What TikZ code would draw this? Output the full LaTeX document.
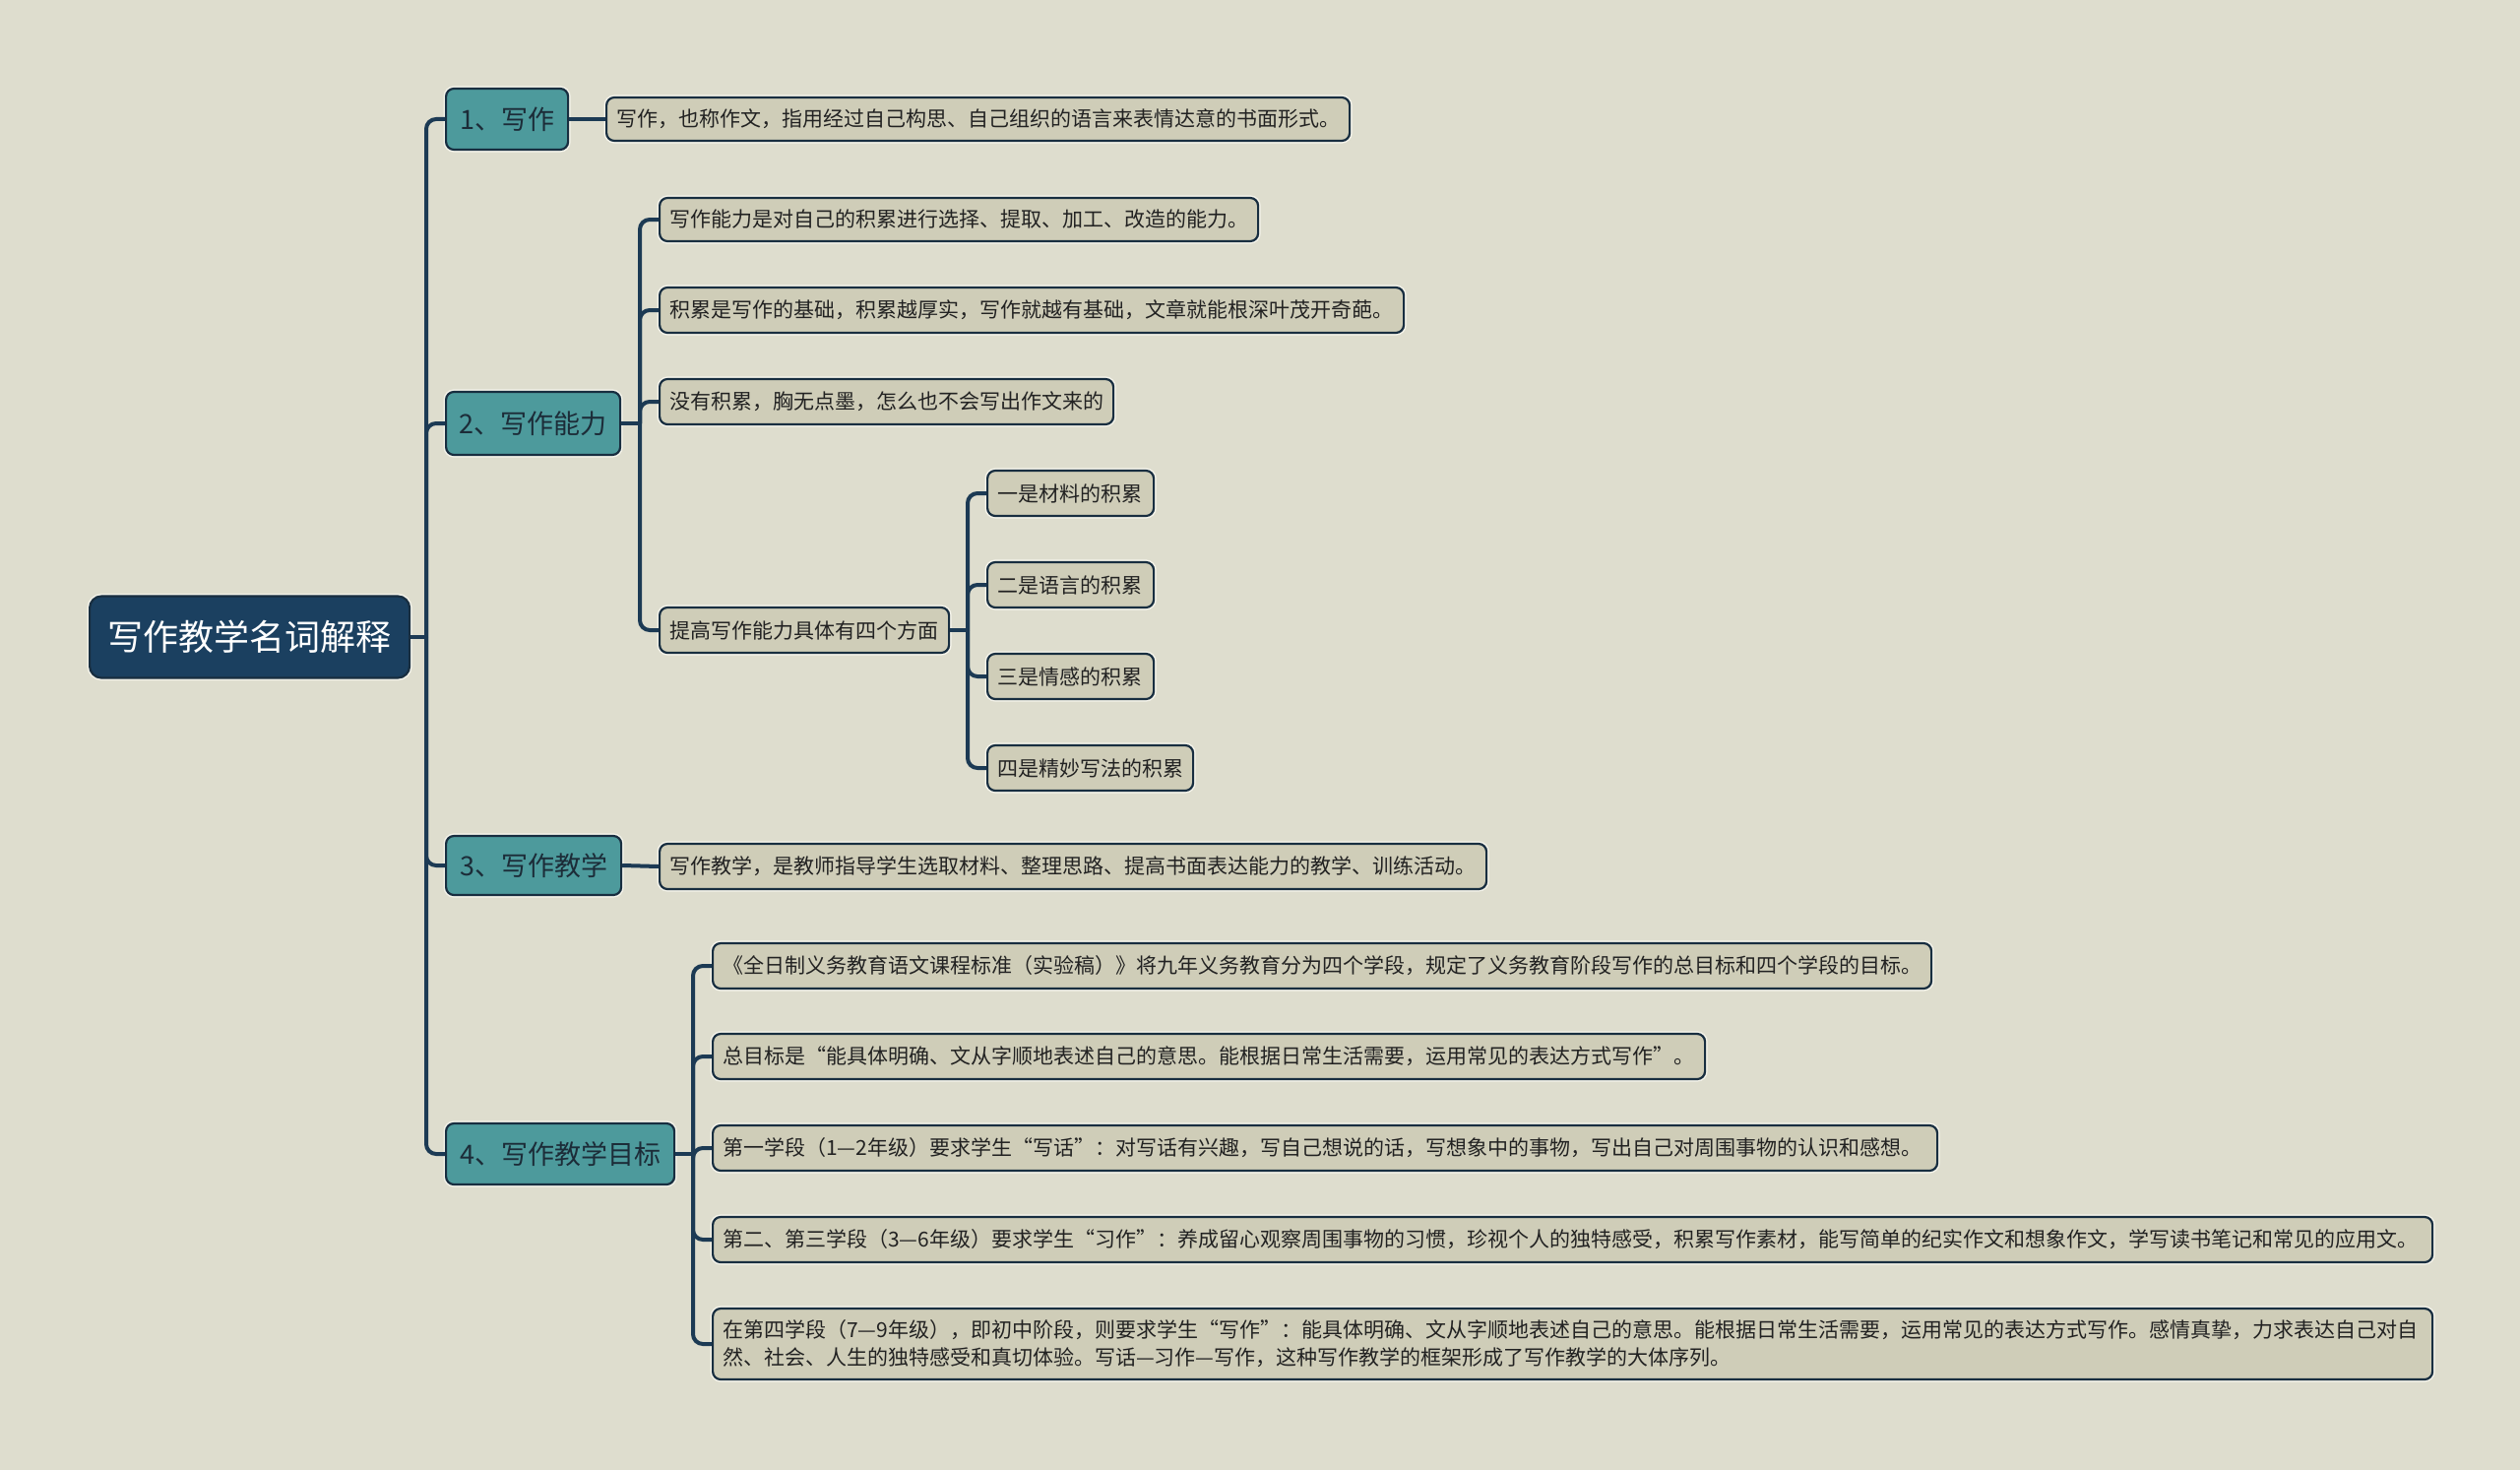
\documentclass[tikz,border=0pt]{standalone}
\usepackage{fontspec}
\setmainfont{Noto Sans CJK SC}
\definecolor{bgc}{RGB}{222,221,206}
\definecolor{leafc}{RGB}{207,205,184}
\definecolor{tealc}{RGB}{77,154,156}
\definecolor{rootc}{RGB}{27,64,96}
\definecolor{bordc}{RGB}{24,46,64}
\definecolor{linec}{RGB}{28,58,84}
\definecolor{leaftxt}{RGB}{34,34,34}
\definecolor{topictxt}{RGB}{28,44,56}
\definecolor{halo}{RGB}{244,243,234}
\begin{document}
\begin{tikzpicture}[x=0.5pt,y=-0.5pt,
  base/.style={draw=bordc, line width=1.1pt, rounded corners=4pt, anchor=west,
    inner ysep=0pt, preaction={draw=halo, line width=2.6pt}},
  leaf/.style={base, fill=leafc, text=leaftxt, inner xsep=5pt,
    font=\fontsize{10.5}{14}\selectfont, align=left, minimum height=23pt},
  topic/.style={base, fill=tealc, text=topictxt, inner xsep=0pt,
    font=\fontsize{13.5}{16}\selectfont, align=center},
  rootn/.style={base, fill=rootc, text=white, inner xsep=0pt, rounded corners=6pt,
    font=\fontsize{18}{22}\selectfont, align=center},
  conn/.style={draw=linec, line width=2pt, rounded corners=5pt}]
\useasboundingbox[fill=bgc] (0,0) rectangle (2560,1493);

% root
\node[rootn, minimum width=162.5pt, minimum height=41.5pt] (root) at (90,647) {写作教学名词解释};

% level 1
\node[topic, minimum width=62pt, minimum height=31pt] (n1) at (452,121) {1、写作};
\node[topic, minimum width=88.5pt, minimum height=32pt] (n2) at (452,430) {2、写作能力};
\node[topic, minimum width=89pt, minimum height=30pt] (n3) at (452,879) {3、写作教学};
\node[topic, minimum width=116pt, minimum height=31pt] (n4) at (452,1172) {4、写作教学目标};

% leaves of 1
\node[leaf, text width=367.5pt, minimum height=22pt] (l1) at (615,121) {写作，也称作文，指用经过自己构思、自己组织的语言来表情达意的书面形式。};

% leaves of 2
\node[leaf, text width=294pt, minimum height=22pt] (l2a) at (669,223) {写作能力是对自己的积累进行选择、提取、加工、改造的能力。};
\node[leaf, text width=368pt] (l2b) at (669,315) {积累是写作的基础，积累越厚实，写作就越有基础，文章就能根深叶茂开奇葩。};
\node[leaf, text width=220.5pt] (l2c) at (669,408) {没有积累，胸无点墨，怎么也不会写出作文来的};
\node[leaf, text width=137pt] (l2d) at (669,640) {提高写作能力具体有四个方面};

\node[leaf, text width=74.5pt] (s1) at (1002,501) {一是材料的积累};
\node[leaf, text width=74.5pt] (s2) at (1002,594) {二是语言的积累};
\node[leaf, text width=74.5pt] (s3) at (1002,687) {三是情感的积累};
\node[leaf, text width=94.5pt] (s4) at (1002,780) {四是精妙写法的积累};

% leaf of 3
\node[leaf, text width=410pt] (l3) at (669,880) {写作教学，是教师指导学生选取材料、整理思路、提高书面表达能力的教学、训练活动。};

% leaves of 4
\node[leaf, text width=609pt] (e1) at (723,981) {《全日制义务教育语文课程标准（实验稿）》将九年义务教育分为四个学段，规定了义务教育阶段写作的总目标和四个学段的目标。};
\node[leaf, text width=494pt] (e2) at (723,1073) {总目标是“能具体明确、文从字顺地表述自己的意思。能根据日常生活需要，运用常见的表达方式写作”。};
\node[leaf, text width=612pt] (e3) at (723,1166) {第一学段（1—2年级）要求学生“写话”：对写话有兴趣，写自己想说的话，写想象中的事物，写出自己对周围事物的认识和感想。};
\node[leaf, text width=863.5pt] (e4) at (723,1259) {第二、第三学段（3—6年级）要求学生“习作”：养成留心观察周围事物的习惯，珍视个人的独特感受，积累写作素材，能写简单的纪实作文和想象作文，学写读书笔记和常见的应用文。};
\node[leaf, text width=863.5pt, minimum height=36pt] (e5) at (723,1365) {在第四学段（7—9年级），即初中阶段，则要求学生“写作”：能具体明确、文从字顺地表述自己的意思。能根据日常生活需要，运用常见的表达方式写作。感情真挚，力求表达自己对自\\然、社会、人生的独特感受和真切体验。写话—习作—写作，这种写作教学的框架形成了写作教学的大体序列。};

% connectors
\coordinate (j0) at (433,647);
\coordinate (j2) at (650,430);
\coordinate (j2d) at (983,640);
\coordinate (j4) at (704,1172);

\draw[conn] (root.east) -- (j0);
\foreach \c in {n1,n2,n3,n4} \draw[conn] (j0) |- (\c.west);

\draw[conn] (n1.east) -- (l1.west);

\draw[conn] (n2.east) -- (j2);
\foreach \c in {l2a,l2b,l2c,l2d} \draw[conn] (j2) |- (\c.west);

\draw[conn] (l2d.east) -- (j2d);
\foreach \c in {s1,s2,s3,s4} \draw[conn] (j2d) |- (\c.west);

\draw[conn] (n3.east) -- (l3.west);

\draw[conn] (n4.east) -- (j4);
\foreach \c in {e1,e2,e3,e4,e5} \draw[conn] (j4) |- (\c.west);
\end{tikzpicture}
\end{document}
